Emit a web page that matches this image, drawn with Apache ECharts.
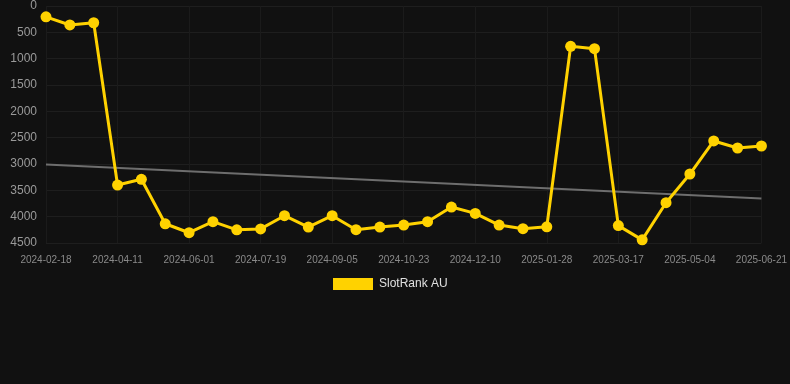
<!DOCTYPE html>
<html>
<head>
<meta charset="utf-8">
<script src="https://cdn.jsdelivr.net/npm/echarts@6/dist/echarts.min.js"></script>
<style>
html,body{margin:0;padding:0;background:#111111;}
#c{width:790px;height:384px;}
</style>
</head>
<body>
<div id="c"></div>
<script>
var dates = [
  '2024-02-18','2024-03-06','2024-03-24','2024-04-11','2024-04-28','2024-05-15',
  '2024-06-01','2024-06-17','2024-07-03','2024-07-19','2024-08-04','2024-08-20',
  '2024-09-05','2024-09-21','2024-10-07','2024-10-23','2024-11-08','2024-11-24',
  '2024-12-10','2024-12-26','2025-01-11','2025-01-28','2025-02-13','2025-03-01',
  '2025-03-17','2025-04-02','2025-04-18','2025-05-04','2025-05-20','2025-06-05',
  '2025-06-21'
];
var rankAU = [
  205, 360, 318, 3400, 3290, 4135, 4305, 4095, 4250, 4232, 3982, 4197,
  3982, 4248, 4197, 4159, 4096, 3817, 3938, 4159, 4229, 4192, 765, 810,
  4170, 4440, 3735, 3190, 2563, 2696, 2658
];
var trend = [3009].concat(new Array(29).fill(null)).concat([3654]);
var yTicks = {min: 0, max: 4500, interval: 500};

var chart = echarts.init(document.getElementById('c'), null, {renderer: 'canvas'});
chart.setOption({
  backgroundColor: '#111111',
  animation: false,
  grid: {left: 46, right: 28, top: 6, bottom: 141, containLabel: false},
  legend: {
    show: true,
    top: 273,
    left: 328,
    itemWidth: 40,
    itemHeight: 12,
    icon: 'rect',
    data: ['SlotRank AU'],
    textStyle: {color: '#e0e0e0', fontSize: 12, padding: [0, 0, 0, 1], fontFamily: 'Liberation Sans, Arial, sans-serif'}
  },
  xAxis: {
    type: 'category',
    data: dates,
    boundaryGap: false,
    position: 'bottom',
    axisLine: {show: false, onZero: false},
    axisTick: {show: false},
    axisLabel: {interval: 2, color: '#8a8a8a', fontSize: 10, margin: 12, fontFamily: 'Liberation Sans, Arial, sans-serif'},
    splitLine: {show: true, interval: 2, lineStyle: {color: '#1b1b1b', width: 1}}
  },
  yAxis: {
    type: 'value',
    inverse: true,
    min: yTicks.min,
    max: yTicks.max,
    interval: yTicks.interval,
    axisLine: {show: false},
    axisTick: {show: false},
    axisLabel: {color: '#9a9a9a', fontSize: 12, margin: 9, fontFamily: 'Liberation Sans, Arial, sans-serif',
      formatter: function (v) { return String(v); }},
    splitLine: {show: true, lineStyle: {color: '#1e1e1e', width: 1}}
  },
  series: [
    {
      name: 'SlotRank AU',
      type: 'line',
      data: rankAU,
      symbol: 'circle',
      symbolSize: 11,
      lineStyle: {color: '#FFD200', width: 3},
      itemStyle: {color: '#FFD200'},
      z: 3
    },
    {
      name: 'trend',
      type: 'line',
      data: trend,
      connectNulls: true,
      symbol: 'none',
      lineStyle: {color: '#6e6e6e', width: 2},
      itemStyle: {color: '#6e6e6e'},
      z: 2
    }
  ]
});
</script>
</body>
</html>
